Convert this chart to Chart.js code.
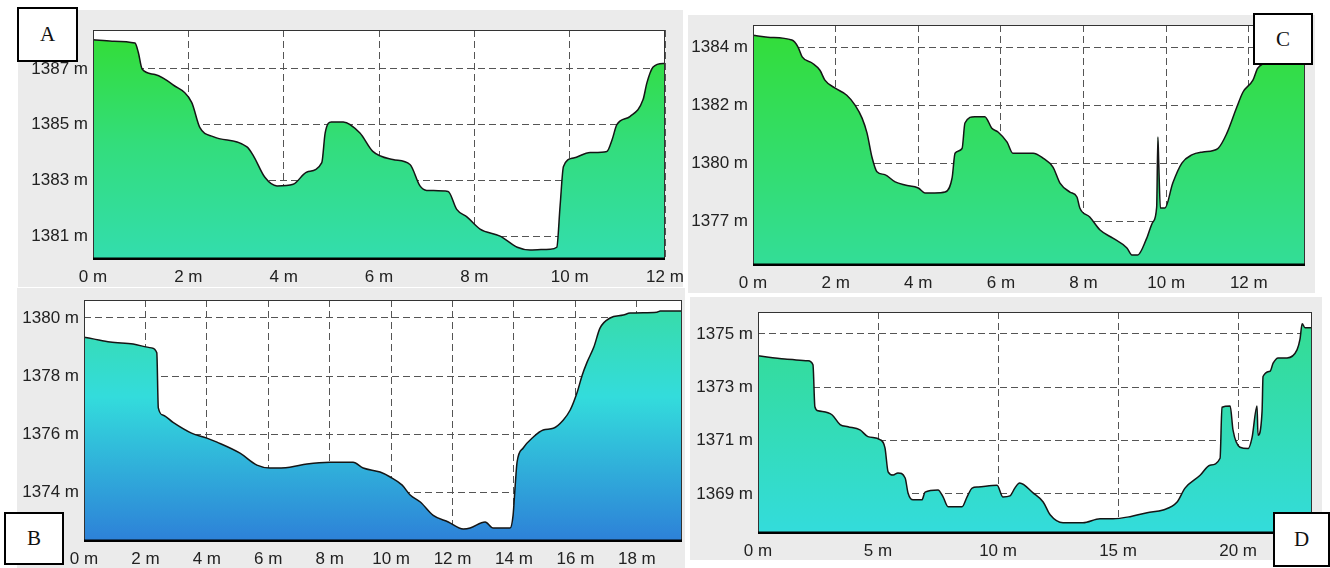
<!DOCTYPE html>
<html>
<head>
<meta charset="utf-8">
<script src="https://cdn.jsdelivr.net/npm/chart.js@4.4.0/dist/chart.umd.min.js"></script>
<style>
    body { margin: 0; background: #fff; width: 1330px; height: 568px; position: relative; overflow: hidden; }
    .panel { position: absolute; background: #ebebeb; }
    .panel canvas { display: block; }
    .tag {
        position: absolute; background: #fff; border: 2px solid #000; box-sizing: border-box;
        font-family: "Liberation Serif", "DejaVu Serif", serif; font-size: 21px; color: #111;
        display: flex; align-items: center; justify-content: center;
    }
</style>
</head>
<body>
<div class="panel" style="left:18px;top:10px;width:665px;height:277px"><canvas id="chartA" width="665" height="277"></canvas></div>
<div class="panel" style="left:17px;top:288px;width:668px;height:280px"><canvas id="chartB" width="668" height="280"></canvas></div>
<div class="panel" style="left:688px;top:15px;width:627px;height:278px"><canvas id="chartC" width="627" height="278"></canvas></div>
<div class="panel" style="left:690px;top:297px;width:632px;height:263px"><canvas id="chartD" width="632" height="263"></canvas></div>

<div class="tag" style="left:17px;top:7px;width:61px;height:55px">A</div>
<div class="tag" style="left:4px;top:512px;width:60px;height:53px">B</div>
<div class="tag" style="left:1253px;top:13px;width:60px;height:52px">C</div>
<div class="tag" style="left:1273px;top:512px;width:57px;height:55px">D</div>

<script>
// profile A
const distA = [0, 0.4, 0.88, 0.95, 1.03, 1.3, 1.68, 2.07, 2.24, 2.52, 3.23, 3.36, 3.61, 3.86, 4.2, 4.49, 4.8, 4.87, 5.0,
    5.25, 5.6, 5.87, 6.29, 6.65, 6.86, 7.0, 7.45, 7.63, 7.85, 8.12, 8.54, 8.9, 9.17, 9.59, 9.73, 9.8, 9.87, 10.08,
    10.43, 10.78, 10.89, 10.99, 11.27, 11.54, 11.62, 11.75, 11.96, 12];
const elevA = [1388.05, 1388.0, 1387.93, 1387.6, 1387.0, 1386.8, 1386.43, 1385.8, 1384.9, 1384.57, 1384.2, 1383.9,
    1383.1, 1382.8, 1382.86, 1383.3, 1383.64, 1384.7, 1385.1, 1385.1, 1384.7, 1384.04, 1383.75, 1383.57, 1382.8,
    1382.64, 1382.6, 1381.96, 1381.68, 1381.25, 1381.0, 1380.6, 1380.5, 1380.53, 1380.6, 1382.1, 1383.5, 1383.8,
    1384.0, 1384.04, 1384.46, 1385.0, 1385.3, 1385.9, 1386.5, 1387.07, 1387.2, 1387.2];
const xTicksA = [0, 2, 4, 6, 8, 10, 12];
const xLabelsA = ['0 m', '2 m', '4 m', '6 m', '8 m', '10 m', '12 m'];
const yTicksA = [1381, 1383, 1385, 1387];
const yLabelsA = ['1381 m', '1383 m', '1385 m', '1387 m'];

// profile B
const distB = [0, 0.3, 0.85, 1.6, 2.2, 2.37, 2.42, 2.58, 2.9, 3.5, 4.0, 4.33, 5.08, 5.63, 6.06, 6.7, 7.26, 8.0, 8.76,
    9.09, 9.64, 9.97, 10.36, 10.62, 10.95, 11.37, 11.86, 12.35, 12.57, 13.06, 13.32, 13.87, 13.97, 14.04, 14.1, 14.3,
    14.63, 14.95, 15.28, 15.6, 15.83, 16.06, 16.22, 16.38, 16.6, 16.8, 17.13, 17.56, 17.78, 18.65, 18.76, 19.47];
const elevB = [1379.34, 1379.28, 1379.17, 1379.1, 1378.97, 1378.8, 1376.9, 1376.65, 1376.4, 1376.03, 1375.86,
    1375.72, 1375.34, 1374.93, 1374.83, 1374.86, 1374.97, 1375.03, 1375.03, 1374.83, 1374.69, 1374.52, 1374.24,
    1373.9, 1373.66, 1373.2, 1372.97, 1372.73, 1372.76, 1372.97, 1372.76, 1372.76, 1373.2, 1374.24, 1375.03,
    1375.52, 1375.9, 1376.14, 1376.2, 1376.48, 1376.83, 1377.45, 1378.03, 1378.48, 1379.0, 1379.65, 1380.0,
    1380.1, 1380.17, 1380.2, 1380.24, 1380.24];
const xTicksB = [0, 2, 4, 6, 8, 10, 12, 14, 16, 18];
const xLabelsB = ['0 m', '2 m', '4 m', '6 m', '8 m', '10 m', '12 m', '14 m', '16 m', '18 m'];
const yTicksB = [1374, 1376, 1378, 1380];
const yLabelsB = ['1374 m', '1376 m', '1378 m', '1380 m'];

// profile C
const distC = [0, 0.36, 0.94, 1.09, 1.19, 1.43, 1.62, 1.74, 1.98, 2.27, 2.47, 2.64, 2.76, 2.88, 3.0, 3.19, 3.44, 3.68,
    4.0, 4.16, 4.4, 4.65, 4.82, 4.89, 5.06, 5.13, 5.37, 5.61, 5.78, 5.93, 6.15, 6.29, 6.78, 7.02, 7.26, 7.43, 7.67,
    7.84, 7.91, 8.15, 8.4, 8.71, 9.05, 9.17, 9.31, 9.53, 9.68, 9.77, 9.8, 9.82, 9.86, 9.97, 10.16, 10.38, 10.62,
    10.89, 11.25, 11.47, 11.71, 11.86, 12.1, 12.22, 12.6, 13.36];
const elevC = [1384.41, 1384.34, 1384.24, 1384.0, 1383.66, 1383.45, 1383.2, 1382.86, 1382.59, 1382.34, 1382.0,
    1381.55, 1381.03, 1380.2, 1379.7, 1379.6, 1379.35, 1379.24, 1379.14, 1378.97, 1378.97, 1379.0, 1379.5, 1380.34,
    1380.5, 1381.38, 1381.6, 1381.6, 1381.2, 1381.07, 1380.72, 1380.34, 1380.34, 1380.17, 1379.86, 1379.31, 1379.0,
    1378.83, 1378.45, 1378.14, 1377.69, 1377.41, 1377.07, 1376.83, 1376.83, 1377.41, 1377.97, 1378.48, 1380.9,
    1380.0, 1378.45, 1378.45, 1379.31, 1380.0, 1380.28, 1380.38, 1380.5, 1381.03, 1381.93, 1382.45, 1382.86,
    1383.28, 1383.5, 1383.6];
const xTicksC = [0, 2, 4, 6, 8, 10, 12];
const xLabelsC = ['0 m', '2 m', '4 m', '6 m', '8 m', '10 m', '12 m'];
const yTicksC = [1378, 1380, 1382, 1384];
const yLabelsC = ['1377 m', '1380 m', '1382 m', '1384 m'];

// profile D
const distD = [0, 1.12, 2.08, 2.29, 2.37, 2.5, 3.08, 3.42, 3.75, 4.25, 4.58, 5.08, 5.29, 5.42, 5.63, 5.83, 6.13, 6.25,
    6.46, 6.83, 6.96, 7.5, 7.71, 7.92, 8.5, 8.71, 8.92, 9.17, 9.96, 10.2, 10.5, 10.7, 10.9, 11.46, 11.88, 12.17,
    12.71, 13.54, 14.25, 14.79, 15.5, 16.21, 16.88, 17.46, 17.79, 18.42, 18.83, 19.25, 19.33, 19.67, 19.79, 20.08,
    20.42, 20.58, 20.79, 20.83, 21.0, 21.04, 21.33, 21.46, 21.67, 22.04, 22.46, 22.58, 22.67, 22.79, 23.08];
const elevD = [1374.18, 1374.06, 1373.99, 1373.84, 1372.27, 1372.12, 1371.97, 1371.6, 1371.52, 1371.4, 1371.15,
    1371.04, 1370.73, 1369.83, 1369.71, 1369.79, 1369.6, 1369.04, 1368.78, 1368.78, 1369.07, 1369.15, 1368.89,
    1368.52, 1368.52, 1368.89, 1369.22, 1369.26, 1369.33, 1368.89, 1368.93, 1369.22, 1369.41, 1369.04, 1368.7,
    1368.22, 1367.92, 1367.92, 1368.07, 1368.07, 1368.15, 1368.3, 1368.4, 1368.7, 1369.22, 1369.7, 1370.08,
    1370.34, 1372.25, 1372.3, 1371.39, 1370.75, 1370.7, 1371.1, 1372.3, 1371.2, 1372.1, 1373.4, 1373.6, 1373.9,
    1374.1, 1374.1, 1374.41, 1374.8, 1375.38, 1375.23, 1375.23];
const xTicksD = [0, 5, 10, 15, 20];
const xLabelsD = ['0 m', '5 m', '10 m', '15 m', '20 m'];
const yTicksD = [1369, 1371, 1373, 1375];
const yLabelsD = ['1369 m', '1371 m', '1373 m', '1375 m'];

// white plot area behind the grid, frame on top of the fill
const plotFrame = {
    id: 'plotFrame',
    beforeDraw(chart) {
        const a = chart.chartArea, c = chart.ctx;
        c.save();
        c.fillStyle = '#fff';
        c.fillRect(a.left, a.top, a.right - a.left, a.bottom - a.top);
        c.restore();
    },
    afterDatasetsDraw(chart) {
        const a = chart.chartArea, c = chart.ctx;
        c.save();
        c.strokeStyle = '#333';
        c.lineWidth = 1;
        c.strokeRect(a.left + 0.5, a.top + 0.5, a.right - a.left - 1, a.bottom - a.top - 1);
        c.strokeStyle = '#000';
        c.lineWidth = 2.5;
        c.beginPath();
        c.moveTo(a.left, a.bottom - 1.2);
        c.lineTo(a.right, a.bottom - 1.2);
        c.stroke();
        c.restore();
    }
};

function makeGradient(chart, stops) {
    const a = chart.chartArea;
    if (!a) return null;
    const g = chart.ctx.createLinearGradient(0, a.top, 0, a.bottom);
    stops.forEach(s => g.addColorStop(s[0], s[1]));
    return g;
}

function drawProfile(id, dist, elev, xTicks, xLabels, yTicks, yLabels, range, frame, stops) {
    const points = dist.map((d, i) => ({ x: d, y: elev[i] }));
    const tickFont = { family: '"Liberation Sans", Arial, sans-serif', size: 17 };
    const config = {
        type: 'line',
        data: {
            datasets: [{
                data: points,
                borderColor: '#151515',
                borderWidth: 1.5,
                pointRadius: 0,
                cubicInterpolationMode: 'monotone',
                fill: 'start',
                backgroundColor: ctx => makeGradient(ctx.chart, stops)
            }]
        },
        options: {
            responsive: false,
            animation: false,
            layout: { padding: { top: frame.top, right: frame.right, left: 0, bottom: 0 } },
            plugins: { legend: { display: false }, tooltip: { enabled: false } },
            scales: {
                x: {
                    type: 'linear',
                    min: range[0],
                    max: range[1],
                    afterBuildTicks: scale => { scale.ticks = xTicks.map(v => ({ value: v })); },
                    afterFit: scale => {
                        scale.height = frame.xAxis;
                        scale.paddingLeft = 0;
                        scale.paddingRight = 0;
                    },
                    grid: { color: '#555', lineWidth: 1, drawTicks: false },
                    border: { display: false, dash: [7, 4] },
                    ticks: {
                        autoSkip: false, maxRotation: 0, padding: 7, color: '#222', font: tickFont,
                        callback: (v, i) => xLabels[i]
                    }
                },
                y: {
                    min: range[2],
                    max: range[3],
                    afterBuildTicks: scale => { scale.ticks = yTicks.map(v => ({ value: v })); },
                    afterFit: scale => {
                        scale.width = frame.yAxis;
                        scale.paddingTop = 0;
                        scale.paddingBottom = 0;
                    },
                    grid: { color: '#555', lineWidth: 1, drawTicks: false },
                    border: { display: false, dash: [7, 4] },
                    ticks: {
                        autoSkip: false, padding: 5, color: '#222', font: tickFont,
                        callback: (v, i) => yLabels[i]
                    }
                }
            }
        },
        plugins: [plotFrame]
    };
    return new Chart(document.getElementById(id).getContext('2d'), config);
}

drawProfile('chartA', distA, elevA, xTicksA, xLabelsA, yTicksA, yLabelsA,
    [0, 12, 1380.14, 1388.4], { top: 20, right: 18, yAxis: 75, xAxis: 27 },
    [[0, '#33dd33'], [0.5, '#33dd7c'], [1, '#33ddae']]);

drawProfile('chartB', distB, elevB, xTicksB, xLabelsB, yTicksB, yLabelsB,
    [0, 19.47, 1372.28, 1380.62], { top: 12, right: 3, yAxis: 67, xAxis: 26 },
    [[0, '#38dca4'], [0.4, '#33dcdc'], [1, '#2d80d8']]);

drawProfile('chartC', distC, elevC, xTicksC, xLabelsC, yTicksC, yLabelsC,
    [0, 13.36, 1376.45, 1384.76], { top: 10, right: 10, yAxis: 65, xAxis: 27 },
    [[0, '#33dd36'], [1, '#33dd98']]);

drawProfile('chartD', distD, elevD, xTicksD, xLabelsD, yTicksD, yLabelsD,
    [0, 23.08, 1367.5, 1375.82], { top: 15, right: 10, yAxis: 68, xAxis: 26 },
    [[0, '#34dc8e'], [1, '#33dcdc']]);
</script>
</body>
</html>
